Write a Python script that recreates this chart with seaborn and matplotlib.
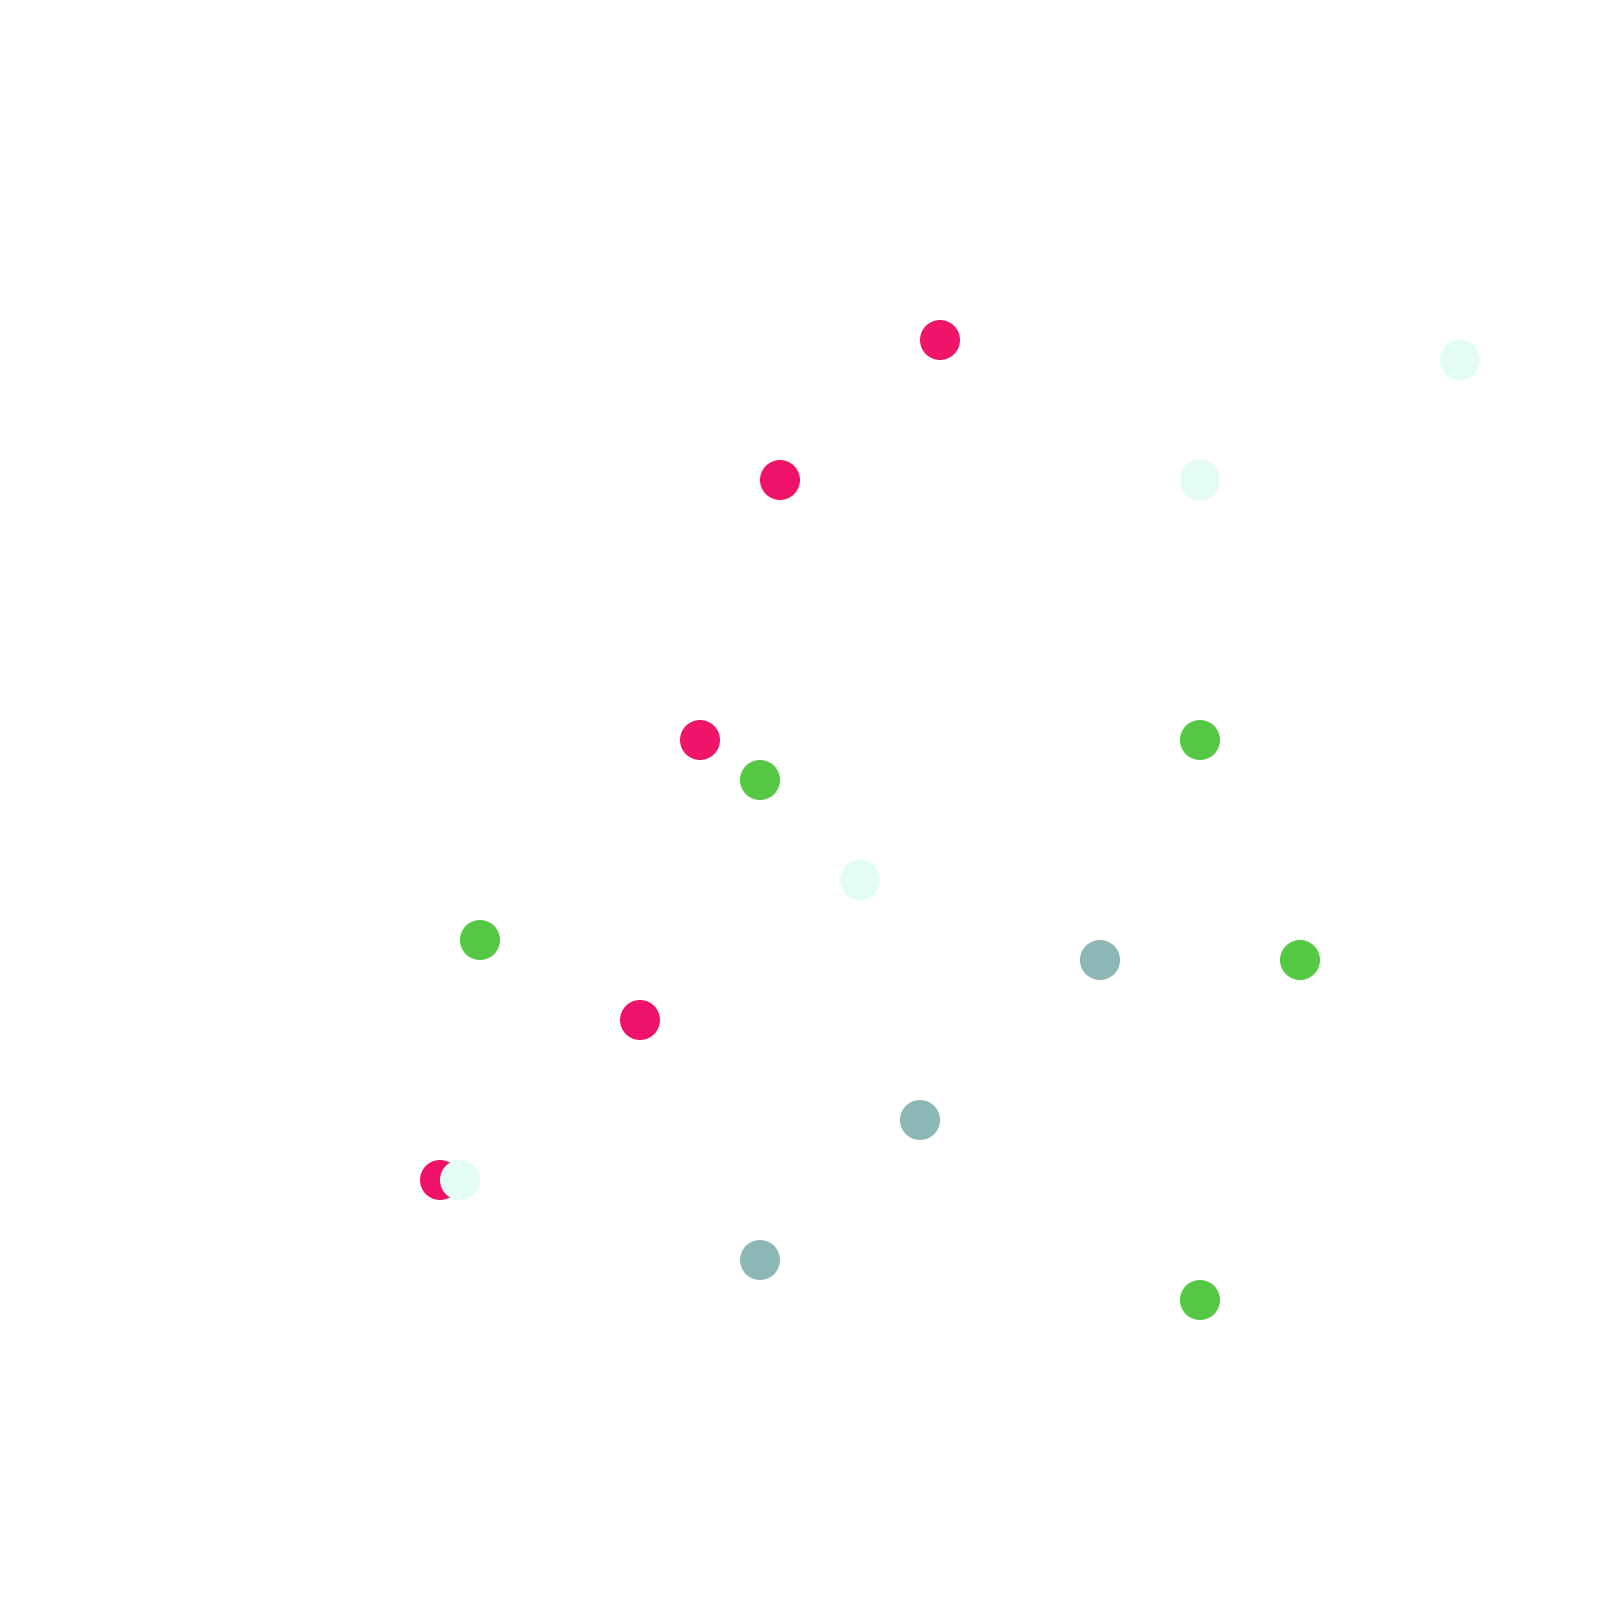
import pandas as pd
import seaborn as sns
from matplotlib import pyplot as plt

# positions in grid units (0..80 across the canvas, y counted from top)
red_x = [47, 39, 35, 32, 22]
red_y = [17, 24, 37, 51, 59]
green_x = [60, 38, 24, 65, 60]
green_y = [37, 39, 47, 48, 65]
teal_x = [55, 46, 38]
teal_y = [48, 56, 63]
mint_x = [73, 60, 43, 23]
mint_y = [18, 24, 44, 59]

groups = ['red', 'green', 'teal', 'mint']
colors = {'red': '#F0136A', 'green': '#55C944', 'teal': '#8DB7B7', 'mint': '#E3FDF3'}

df = pd.concat([
    pd.DataFrame({'x': red_x, 'y': red_y, 'g': 'red'}),
    pd.DataFrame({'x': green_x, 'y': green_y, 'g': 'green'}),
    pd.DataFrame({'x': teal_x, 'y': teal_y, 'g': 'teal'}),
    pd.DataFrame({'x': mint_x, 'y': mint_y, 'g': 'mint'}),
], ignore_index=True)

sns.set_style('white')
fig = plt.figure(figsize=(16, 16), dpi=100)
ax = fig.add_axes([0, 0, 1, 1])

sns.scatterplot(df, x='x', y='y', hue='g', hue_order=groups, palette=colors,
                s=830, linewidth=0, alpha=1, legend=False, ax=ax)

ax.set_xlim(0, 80)
ax.set_ylim(80, 0)
ax.axis('off')

plt.savefig('out.png', dpi=100, facecolor='white')
